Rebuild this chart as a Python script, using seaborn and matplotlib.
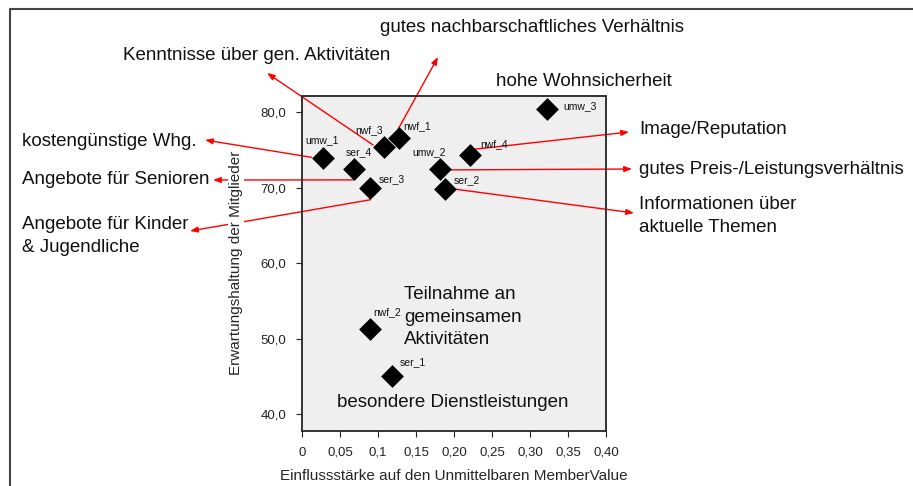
import matplotlib
matplotlib.use("Agg")
import matplotlib.pyplot as plt
from matplotlib.transforms import offset_copy
from matplotlib.lines import Line2D
import pandas as pd
import seaborn as sns

# data
point_names = ['umw_1', 'umw_2', 'umw_3', 'nwf_1', 'nwf_2', 'nwf_3', 'nwf_4',
               'ser_1', 'ser_2', 'ser_3', 'ser_4']
influence = [0.027, 0.181, 0.323, 0.128, 0.089, 0.108, 0.221,
             0.119, 0.188, 0.090, 0.069]
expectation = [73.9, 72.5, 80.5, 76.6, 51.3, 75.4, 74.3,
               45.1, 69.8, 70.0, 72.5]

x_ticks = [0, 0.05, 0.1, 0.15, 0.2, 0.25, 0.3, 0.35, 0.4]
x_tick_labels = ['0', '0,05', '0,1', '0,15', '0,20', '0,25', '0,30', '0,35', '0,40']
y_ticks = [40, 50, 60, 70, 80]
y_tick_labels = ['40,0', '50,0', '60,0', '70,0', '80,0']

df = pd.DataFrame({'name': point_names, 'x': influence, 'y': expectation})

W, H = 913, 486

sns.set_style('ticks')
plt.rcParams['font.family'] = ['Liberation Sans', 'DejaVu Sans']

fig = plt.figure(figsize=(W / 100, H / 100), dpi=100)
ax = fig.add_axes([302 / W, (H - 430.7) / H, 304 / W, 335 / H])
ax.set_facecolor('#efefef')
ax.set_axisbelow(False)  # axis (and its label) above the callout lines

sns.scatterplot(data=df, x='x', y='y', marker='D', s=135, color='black',
                linewidth=0, ax=ax, zorder=4)

ax.set_xlim(0, 0.40)
ax.set_ylim(37.8, 82.2)
ax.set_xticks(x_ticks)
ax.set_xticklabels(x_tick_labels)
ax.set_yticks(y_ticks)
ax.set_yticklabels(y_tick_labels)
ax.tick_params(axis='both', length=4.5, width=0.8, pad=7, labelsize=9.5,
               colors='#222222')
for sp in ax.spines.values():
    sp.set_visible(True)
    sp.set_color('#333333')
    sp.set_linewidth(1.4)

ax.set_xlabel('Einflussstärke auf den Unmittelbaren MemberValue', fontsize=11, va='center')
ax.set_ylabel('Erwartungshaltung der Mitglieder', fontsize=11, va='center')
ax.xaxis.set_label_coords(0.5, -(476 - 430.7) / 335)
ax.yaxis.set_label_coords((236 - 302) / 304, 0.5)
ax.yaxis.label.set_bbox(dict(facecolor='white', edgecolor='none', pad=1))

# small point labels (offsets in pixels, y upwards)
label_pos = {
    'umw_1': (0, 18, 'center'), 'umw_2': (6, 17, 'right'), 'umw_3': (16, 2, 'left'),
    'nwf_1': (4, 12, 'left'), 'nwf_2': (4, 17, 'left'), 'nwf_3': (-1, 17, 'right'),
    'nwf_4': (10, 11, 'left'), 'ser_1': (7, 13, 'left'), 'ser_2': (9, 9, 'left'),
    'ser_3': (8, 9, 'left'), 'ser_4': (-9, 17, 'left'),
}
for _, r in df.iterrows():
    dx, dy, ha = label_pos[r['name']]
    ax.annotate(r['name'], (r['x'], r['y']), xytext=(dx, dy), textcoords='offset pixels',
                ha=ha, va='center', fontsize=7.5, color='#111111', zorder=5)

# callouts: point -> (arrow head px, start offset px)
callouts = [
    ('nwf_3', (267, 73), (-11, 2)),
    ('nwf_1', (438, 57), (-1, 9)),
    ('umw_1', (205, 140), (-11, 1)),
    ('ser_4', (213, 180), (-1, -11)),
    ('ser_3', (190, 231), (0, -12)),
    ('nwf_4', (629, 132), (4, 6)),
    ('umw_2', (632, 169), (11, -1)),
    ('ser_2', (634, 213), (11, 0)),
]
for name, head, off in callouts:
    row = df[df['name'] == name].iloc[0]
    tr = offset_copy(ax.transData, fig=fig, x=off[0], y=off[1], units='dots')
    ax.annotate('', xy=(head[0], H - head[1]), xycoords='figure pixels',
                xytext=(row['x'], row['y']), textcoords=tr,
                arrowprops=dict(arrowstyle='-|>,head_length=0.45,head_width=0.17',
                                color='red', lw=1.0, shrinkA=0, shrinkB=0),
                annotation_clip=False, zorder=2)

big_texts = [
    ('gutes nachbarschaftliches Verhältnis', 380, 28),
    ('Kenntnisse über gen. Aktivitäten', 123, 56),
    ('hohe Wohnsicherheit', 496, 81),
    ('kostengünstige Whg.', 22, 142),
    ('Angebote für Senioren', 22, 179),
    ('Angebote für Kinder\n& Jugendliche', 22, 236),
    ('Image/Reputation', 639, 130),
    ('gutes Preis-/Leistungsverhältnis', 639, 169),
    ('Informationen über\naktuelle Themen', 639, 216),
    ('Teilnahme an\ngemeinsamen\nAktivitäten', 404, 317),
    ('besondere Dienstleistungen', 337, 402),
]
for txt, px, py in big_texts:
    fig.text(px / W, 1 - py / H, txt, ha='left', va='center', fontsize=13.5,
             color='#111111', linespacing=1.4, zorder=6)

# outer frame (only left and top edges visible)
fig.add_artist(Line2D([9.5 / W, 9.5 / W, 1.0], [0, 1 - 9.5 / H, 1 - 9.5 / H],
                      transform=fig.transFigure, color='#444444', lw=1.5))

fig.savefig('out.png', dpi=100)
